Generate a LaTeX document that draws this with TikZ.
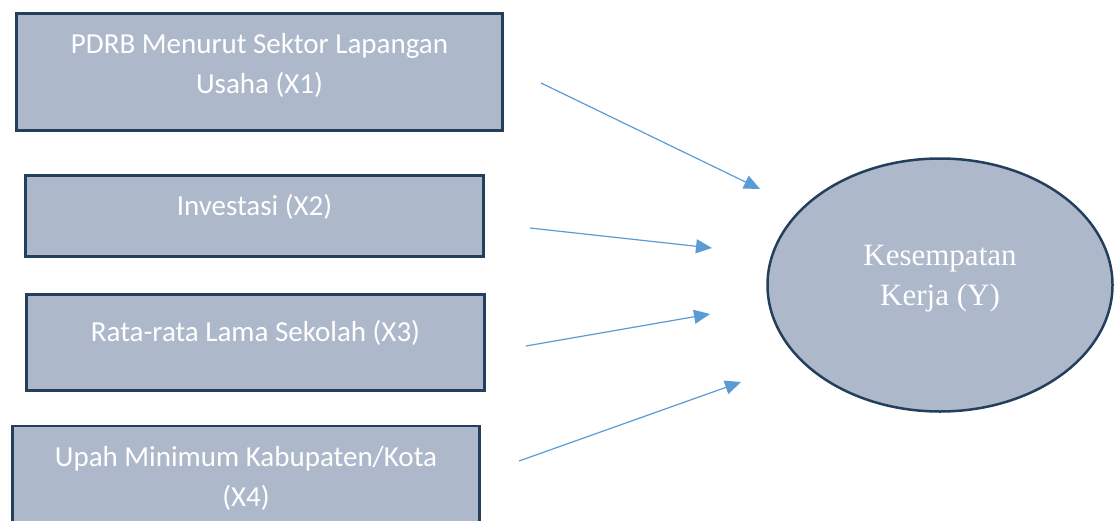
\documentclass[tikz,border=0pt]{standalone}
\usepackage{fontspec}
\setmainfont{Carlito}
\newfontfamily\ellfont{Liberation Serif}
\usepackage{xcolor}
\usepackage{tikz}
\usetikzlibrary{arrows.meta, positioning, shapes.geometric}

\definecolor{boxfill}{HTML}{ADB9CA}
\definecolor{boxline}{HTML}{243F5C}
\definecolor{arrowblue}{HTML}{5B9BD5}

\begin{document}
\begin{tikzpicture}[x=1pt, y=-1pt,
    varbox/.style={draw=boxline, line width=2.5pt, fill=boxfill, inner sep=0pt},
    vartext/.style={text=white, inner sep=0pt, align=center, font=\fontsize{29}{40}\selectfont},
    depbox/.style={ellipse, draw=boxline, line width=2.5pt, fill=boxfill, inner sep=0pt,
        minimum width=345pt, minimum height=253pt},
    deptext/.style={text=white, inner sep=0pt, align=center, font=\ellfont\fontsize{31}{40}\selectfont},
    arr/.style={-{Triangle[length=16pt, width=14pt]}, line width=1.2pt, arrowblue}]
    \useasboundingbox (0,0) rectangle (1119,520);

    % Variables X
    \node[varbox, minimum width=486pt, minimum height=117pt] (x1) at (259.5,72) {};
    \node[varbox, minimum width=458pt, minimum height=81pt] (x2) at (254.5,216) {};
    \node[varbox, minimum width=458pt, minimum height=96pt] (x3) at (255.5,342.5) {};
    \node[varbox, minimum width=467pt, minimum height=120pt] (x4) at (246,486) {};

    \node[vartext, below=21pt of x1.north] (x1t) {PDRB Menurut Sektor Lapangan\\Usaha (X1)};
    \node[vartext, below=20pt of x2.north] (x2t) {Investasi (X2)};
    \node[vartext, below=27pt of x3.north] (x3t) {Rata-rata Lama Sekolah (X3)};
    \node[vartext, below=21pt of x4.north] (x4t) {Upah Minimum Kabupaten/Kota\\(X4)};

    % Variable Y
    \node[depbox] (y) at (940,285) {};
    \node[deptext, below=88pt of y.north] (yt) {Kesempatan\\Kerja (Y)};

    % Arrows
    \coordinate (s1) at (541,83);  \coordinate (t1) at (760,189);
    \coordinate (s2) at (530,228); \coordinate (t2) at (712,248);
    \coordinate (s3) at (526,346); \coordinate (t3) at (710,314);
    \coordinate (s4) at (519,461); \coordinate (t4) at (741,382);
    \draw[arr] (s1) -- (t1);
    \draw[arr] (s2) -- (t2);
    \draw[arr] (s3) -- (t3);
    \draw[arr] (s4) -- (t4);
\end{tikzpicture}
\end{document}
